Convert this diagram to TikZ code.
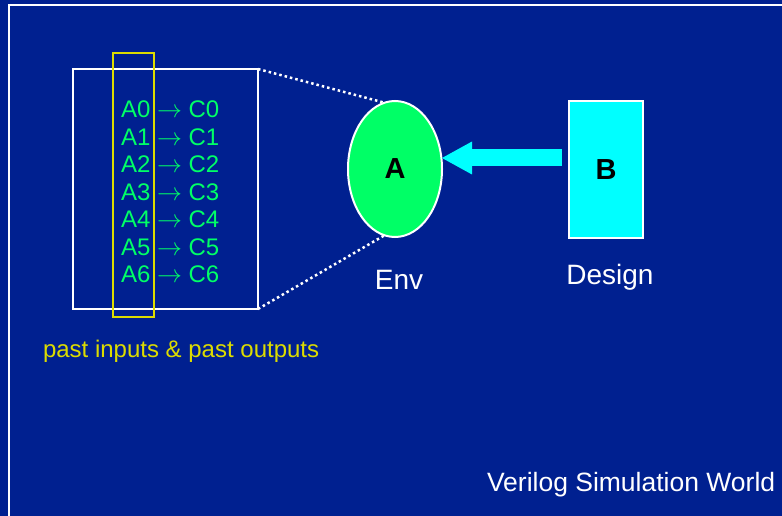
\documentclass[tikz,border=0pt]{standalone}
\usepackage{fontspec}
\setmainfont{Liberation Sans}
\usetikzlibrary{shapes.geometric,arrows.meta,positioning}
\definecolor{sblue}{RGB}{0,32,144}
\definecolor{sgreen}{RGB}{0,255,102}
\definecolor{syellow}{RGB}{220,220,0}
\definecolor{scyan}{RGB}{0,255,255}

\begin{document}
\begin{tikzpicture}[x=1pt,y=-1pt,
  every node/.style={inner sep=0pt,outer sep=0pt},
  pair/.style={text=sgreen,font=\fontsize{24}{28}\selectfont,anchor=base west},
  caption/.style={text=white,font=\fontsize{28}{32}\selectfont,anchor=base},
  block/.style={draw=white,line width=2pt,text=black,font=\fontsize{29}{32}\selectfont\bfseries},
  zoomline/.style={white,line width=2.5pt,dash pattern=on 2.5pt off 3pt}]

% slide
\useasboundingbox (0,0) rectangle (782,516);
\fill[sblue] (0,0) rectangle (782,516);
\draw[white,line width=2pt] (9,530) |- (800,5);

% recorded history
\node[draw=white,line width=2.2pt,minimum width=185pt,minimum height=240pt] (hist) at (165.5,189) {};
\node[draw=syellow,line width=2.7pt,minimum width=41pt,minimum height=264pt] (win) at (133.5,185) {};
\foreach \i in {0,...,6}
  \node[pair] (p\i) at (121,118+27.4*\i) {A\i\ $\rightarrow$ C\i};
\node[pair,text=syellow] (past) at (43,357) {past inputs \& past outputs};

% env and design
\node[ellipse,block,fill=sgreen,minimum width=94pt,minimum height=136pt] (env) at (395,169) {A};
\node[block,fill=scyan,minimum width=74pt,minimum height=137pt] (dut) at (606,169.5) {B};
\node[caption] (envtxt) at (399,289) {Env};
\node[caption] (duttxt) at (610,284) {Design};
\node[caption,font=\fontsize{26.5}{30}\selectfont,anchor=base west] (world) at (487,491) {Verilog Simulation World};

% zoom lines
\draw[zoomline] (hist.north east) -- (env.99);
\draw[zoomline] (hist.south east) -- (env.261);

% fat arrow
\coordinate (tail) at ([xshift=-7pt,yshift=11.5pt]dut.west);
\draw[scyan,line width=17pt,-{Triangle[length=30pt,width=33pt,line width=0pt]}] (tail) -- (tail -| env.east);
\end{tikzpicture}
\end{document}
